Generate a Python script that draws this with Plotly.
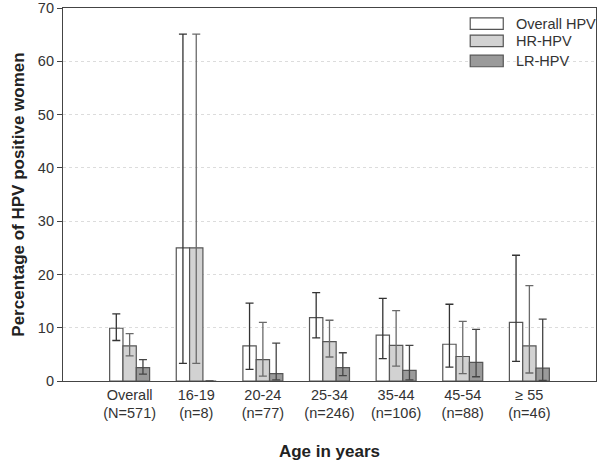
import plotly.graph_objects as go

# ---- data ----
groups = ["Overall<br>(N=571)", "16-19<br>(n=8)", "20-24<br>(n=77)", "25-34<br>(n=246)",
          "35-44<br>(n=106)", "45-54<br>(n=88)", "\u2265 55<br>(n=46)"]
series_names = ["Overall HPV", "HR-HPV", "LR-HPV"]

overall_val = [9.9, 25.0, 6.6, 11.9, 8.6, 6.9, 11.0]
overall_hi = [12.6, 65.1, 14.6, 16.6, 15.5, 14.4, 23.6]
overall_lo = [7.6, 3.3, 2.2, 8.1, 4.2, 2.6, 3.7]

hr_val = [6.6, 25.0, 4.0, 7.4, 6.7, 4.6, 6.6]
hr_hi = [8.9, 65.1, 11.0, 11.4, 13.2, 11.2, 17.9]
hr_lo = [4.7, 3.3, 0.9, 4.5, 2.8, 1.4, 1.5]

lr_val = [2.5, 0.0, 1.4, 2.5, 2.0, 3.5, 2.4]
lr_hi = [4.0, 0.0, 7.1, 5.3, 6.7, 9.7, 11.6]
lr_lo = [1.3, 0.0, 0.2, 1.0, 0.2, 0.8, 0.1]

y_ticks = [0, 10, 20, 30, 40, 50, 60, 70]

# ---- styles ----
FONT = "Liberation Sans, Arial, sans-serif"
fills = ["#ffffff", "#d2d2d2", "#9a9a9a"]
err_cols = ["#333333", "#6a6a6a", "#444444"]
outline = "#555555"

x = list(range(len(groups)))
fig = go.Figure()
for name, val, hi, lo, fc, ec in zip(
        series_names,
        [overall_val, hr_val, lr_val],
        [overall_hi, hr_hi, lr_hi],
        [overall_lo, hr_lo, lr_lo],
        fills, err_cols):
    plus = [h - v for h, v in zip(hi, val)]
    minus = [v - l for l, v in zip(lo, val)]
    fig.add_trace(go.Bar(
        x=x, y=val, name=name, showlegend=False, hoverinfo="skip",
        marker=dict(color=fc, line=dict(color=outline, width=1.2)),
        error_y=dict(type="data", symmetric=False, array=plus, arrayminus=minus,
                     color=ec, thickness=1.3, width=4),
    ))

# custom legend (wide swatches like the reference)
leg_y = [0.958, 0.912, 0.858]
for name, fc, yy in zip(series_names, fills, leg_y):
    fig.add_shape(type="rect", xref="paper", yref="paper",
                  x0=0.764, x1=0.826, y0=yy - 0.0155, y1=yy + 0.0155,
                  fillcolor=fc, line=dict(color=outline, width=1.2))
    fig.add_annotation(xref="paper", yref="paper", x=0.846, y=yy, text=name,
                       showarrow=False, xanchor="left", yanchor="middle",
                       font=dict(family=FONT, size=14.5, color="#333333"))

fig.update_layout(
    width=600, height=464,
    margin=dict(l=63, r=4, t=8, b=83),
    paper_bgcolor="white", plot_bgcolor="white",
    barmode="group", bargap=0.4, bargroupgap=0,
    font=dict(family=FONT, size=14, color="#333333"),
)
fig.update_xaxes(
    tickmode="array", tickvals=x, ticktext=groups,
    range=[-1, 7], showgrid=False, zeroline=False, automargin=False,
    showline=True, linecolor="#444444", linewidth=1.2, mirror=True,
    ticks="", tickfont=dict(family=FONT, size=14.5, color="#333333"),
    title=dict(text="<b>Age in years</b>", font=dict(family=FONT, size=17, color="#222222"), standoff=24),
)
fig.update_yaxes(
    range=[0, 70], tickmode="array", tickvals=y_ticks,
    showgrid=True, gridcolor="#dcdcdc", griddash="dot", gridwidth=1,
    zeroline=False, showline=True, linecolor="#444444", linewidth=1.2, mirror=True,
    ticks="outside", ticklen=5, tickcolor="#444444", automargin=False,
    ticklabeloverflow="allow",
    tickfont=dict(family=FONT, size=14.5, color="#333333"),
    title=dict(text="<b>Percentage of HPV positive women</b>",
               font=dict(family=FONT, size=17, color="#222222"), standoff=8),
)

fig.write_html("out.html", config={"displayModeBar": False},
               post_script="document.body.style.margin='0';")
